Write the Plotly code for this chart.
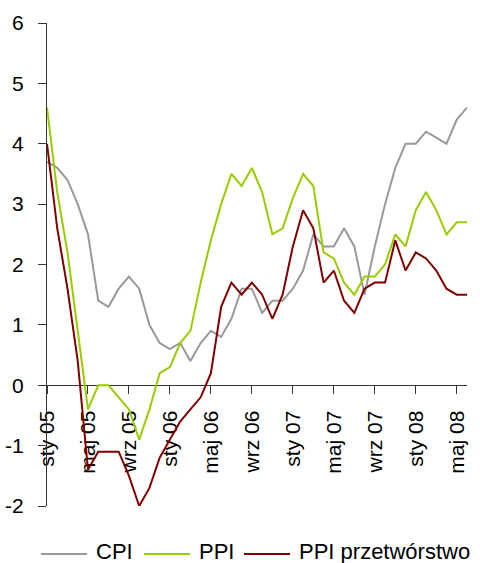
import plotly.graph_objects as go

# Monthly labels, January 2005 - June 2008
month_names = ["sty", "lut", "mar", "kwi", "maj", "cze",
               "lip", "sie", "wrz", "paź", "lis", "gru"]
months = [f"{m} {y:02d}" for y in (5, 6, 7, 8) for m in month_names][:42]
tick_labels = months[::4]

# Value axis ticks (plain hyphen for negatives)
y_ticks = [-2, -1, 0, 1, 2, 3, 4, 5, 6]
y_tick_text = [str(v) for v in y_ticks]

# Year-on-year change, %
cpi = [3.7, 3.6, 3.4, 3.0, 2.5, 1.4, 1.3, 1.6, 1.8, 1.6, 1.0, 0.7,
       0.6, 0.7, 0.4, 0.7, 0.9, 0.8, 1.1, 1.6, 1.6, 1.2, 1.4, 1.4,
       1.6, 1.9, 2.5, 2.3, 2.3, 2.6, 2.3, 1.5, 2.3, 3.0, 3.6, 4.0,
       4.0, 4.2, 4.1, 4.0, 4.4, 4.6]
ppi = [4.6, 3.2, 2.2, 0.9, -0.4, 0.0, 0.0, -0.2, -0.4, -0.9, -0.4, 0.2,
       0.3, 0.7, 0.9, 1.7, 2.4, 3.0, 3.5, 3.3, 3.6, 3.2, 2.5, 2.6,
       3.1, 3.5, 3.3, 2.2, 2.1, 1.7, 1.5, 1.8, 1.8, 2.0, 2.5, 2.3,
       2.9, 3.2, 2.9, 2.5, 2.7, 2.7]
ppi_manuf = [4.0, 2.6, 1.6, 0.4, -1.4, -1.1, -1.1, -1.1, -1.5, -2.0, -1.7, -1.2,
             -0.9, -0.6, -0.4, -0.2, 0.2, 1.3, 1.7, 1.5, 1.7, 1.5, 1.1, 1.5,
             2.3, 2.9, 2.6, 1.7, 1.9, 1.4, 1.2, 1.6, 1.7, 1.7, 2.4, 1.9,
             2.2, 2.1, 1.9, 1.6, 1.5, 1.5]

series_names = ["CPI", "PPI", "PPI przetwórstwo"]
series_values = [cpi, ppi, ppi_manuf]
series_colors = ["#999999", "#99CC00", "#800000"]

font_family = "Liberation Sans, Arial, sans-serif"

W, H = 480, 563
M_L, M_R, M_T, M_B = 47, 13, 23, 57
PLOT_W = W - M_L - M_R
PLOT_H = H - M_T - M_B


def px_to_paper(px, py):
    return (px - M_L) / PLOT_W, (H - M_B - py) / PLOT_H


fig = go.Figure()
for name, values, color in zip(series_names, series_values, series_colors):
    fig.add_trace(go.Scatter(
        x=months, y=values, name=name, mode="lines",
        line=dict(color=color, width=2), showlegend=False,
    ))

# Legend row below the plot: line sample followed by its label
legend_line_starts = [41, 144, 244]
sample_len = 46
legend_y = 554
for name, color, x0 in zip(series_names, series_colors, legend_line_starts):
    ax0, ay = px_to_paper(x0, legend_y)
    ax1, _ = px_to_paper(x0 + sample_len, legend_y)
    fig.add_shape(type="line", xref="paper", yref="paper",
                  x0=ax0, x1=ax1, y0=ay, y1=ay,
                  line=dict(color=color, width=2))
    tx, ty = px_to_paper(x0 + sample_len + 7, legend_y - 3)
    fig.add_annotation(xref="paper", yref="paper", x=tx, y=ty,
                       xanchor="left", yanchor="middle", showarrow=False,
                       text=name, font=dict(size=22, color="#000000"))

fig.update_layout(
    width=W, height=H,
    margin=dict(l=M_L, r=M_R, t=M_T, b=M_B, autoexpand=False),
    paper_bgcolor="white", plot_bgcolor="white",
    font=dict(family=font_family, size=21, color="#000000"),
    showlegend=False,
    xaxis=dict(
        type="category", range=[0, 41],
        tickmode="array", tickvals=tick_labels, ticktext=tick_labels,
        tickangle=-90, ticks="outside", ticklen=8, tickcolor="#333333",
        showline=True, linecolor="#333333", linewidth=1,
        showgrid=False, zeroline=False, automargin=False,
        anchor="free", position=0.25, layer="below traces",
        ticklabelstandoff=8,
    ),
    yaxis=dict(
        range=[-2, 6], tickmode="array", tickvals=y_ticks, ticktext=y_tick_text,
        ticks="outside", ticklen=8, tickcolor="#333333",
        showline=True, linecolor="#333333", linewidth=1,
        showgrid=False, zeroline=False, automargin=False,
        ticklabelstandoff=10,
    ),
)

fig.write_html("out.html")
